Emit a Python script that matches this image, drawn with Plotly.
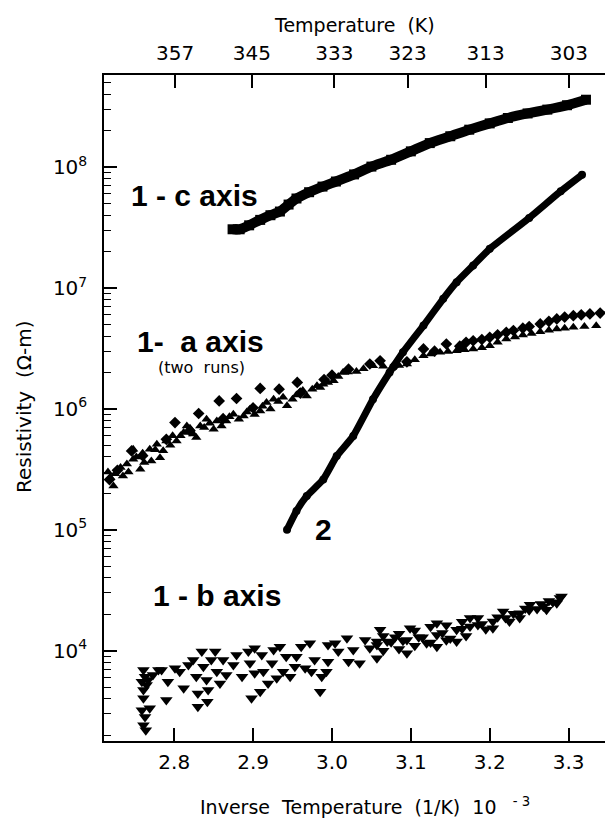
import plotly.graph_objects as go

# ---------------- data ----------------
# inverse temperature (1/K x 10^-3), resistivity (Ohm-m)
c_x = [2.874, 2.883, 2.895, 2.909, 2.922, 2.934, 2.945, 2.955, 2.971, 2.988, 3.005, 3.028,
       3.050, 3.075, 3.100, 3.124, 3.150, 3.174, 3.200, 3.223, 3.248, 3.273, 3.298, 3.322]
c_y = [3.06e7, 3.06e7, 3.30e7, 3.66e7, 4.00e7, 4.29e7, 4.90e7, 5.50e7, 6.20e7, 6.90e7, 7.60e7, 8.70e7,
       1.01e8, 1.15e8, 1.35e8, 1.58e8, 1.80e8, 2.04e8, 2.30e8, 2.55e8, 2.78e8, 2.99e8, 3.25e8, 3.61e8]

s2_x = [2.943, 2.955, 2.968, 2.989, 3.006, 3.027, 3.052, 3.073, 3.090, 3.116, 3.141,
        3.158, 3.179, 3.200, 3.250, 3.290, 3.317]
s2_y = [1.00e5, 1.43e5, 1.90e5, 2.61e5, 4.07e5, 5.97e5, 1.20e6, 2.00e6, 2.94e6, 4.89e6, 8.13e6,
        1.117e7, 1.535e7, 2.11e7, 3.80e7, 6.31e7, 8.63e7]

# 1 - a axis, run 1 (diamonds)
a1_x = [2.718, 2.728, 2.746, 2.760, 2.790, 2.801, 2.820, 2.831, 2.857, 2.862, 2.879, 2.900,
        2.909, 2.933, 2.956, 2.960, 2.990, 3.000, 3.021, 3.048, 3.061, 3.080, 3.095, 3.116,
        3.130, 3.145, 3.162, 3.170, 3.179, 3.190, 3.200, 3.210, 3.221, 3.230, 3.242, 3.250,
        3.264, 3.275, 3.285, 3.295, 3.306, 3.316, 3.327, 3.340, 3.352]
a1_y = [2.6e5, 3.1e5, 4.49e5, 4.1e5, 5.6e5, 7.71e5, 6.6e5, 9.16e5, 1.164e6, 8.3e5, 1.219e6, 1.02e6,
        1.476e6, 1.455e6, 1.656e6, 1.35e6, 1.75e6, 1.90e6, 2.13e6, 2.35e6, 2.50e6, 2.30e6, 2.45e6, 3.13e6,
        3.0e6, 3.44e6, 3.3e6, 3.55e6, 3.66e6, 3.75e6, 3.91e6, 4.1e6, 4.30e6, 4.45e6, 4.65e6, 4.8e6,
        5.04e6, 5.3e6, 5.55e6, 5.75e6, 5.90e6, 6.0e6, 6.10e6, 6.2e6, 6.30e6]

# 1 - a axis, run 2 (triangles)
a2_x = [2.716, 2.719, 2.723, 2.725, 2.732, 2.735, 2.740, 2.742, 2.748, 2.748, 2.752, 2.757,
        2.760, 2.762, 2.769, 2.771, 2.776, 2.778, 2.782, 2.786, 2.790, 2.795, 2.798, 2.803,
        2.808, 2.812, 2.816, 2.820, 2.824, 2.828, 2.833, 2.838, 2.841, 2.845, 2.850, 2.854,
        2.860, 2.866, 2.870, 2.875, 2.882, 2.888, 2.892, 2.896, 2.902, 2.909, 2.912, 2.917,
        2.922, 2.926, 2.932, 2.938, 2.943, 2.950, 2.955, 2.959, 2.963, 2.968, 2.975, 2.981,
        2.985, 2.989, 2.995, 3.002, 3.008, 3.014, 3.020, 3.031, 3.040, 3.052, 3.065, 3.076,
        3.085, 3.095, 3.105, 3.116, 3.125, 3.137, 3.147, 3.158, 3.168, 3.179, 3.190, 3.200,
        3.210, 3.221, 3.232, 3.242, 3.253, 3.264, 3.275, 3.285, 3.295, 3.306, 3.320, 3.335]
a2_y = [3.0e5, 2.70e5, 2.30e5, 2.9e5, 3.27e5, 2.78e5, 3.5e5, 3.0e5, 3.83e5, 4.63e5, 4.0e5, 3.16e5,
        4.3e5, 3.6e5, 4.63e5, 3.71e5, 4.6e5, 5.1e5, 3.95e5, 4.5e5, 5.43e5, 5.0e5, 6.0e5, 5.43e5,
        6.0e5, 6.37e5, 7.23e5, 6.9e5, 6.2e5, 5.79e5, 7.23e5, 7.0e5, 8.22e5, 7.6e5, 6.79e5, 7.94e5,
        7.2e5, 7.94e5, 8.6e5, 9.04e5, 8.2e5, 8.75e5, 9.4e5, 9.95e5, 9.0e5, 9.62e5, 1.05e6, 1.13e6,
        1.0e6, 1.20e6, 1.15e6, 1.245e6, 1.06e6, 1.2e6, 1.3e6, 1.368e6, 1.42e6, 1.28e6, 1.45e6, 1.552e6,
        1.5e6, 1.60e6, 1.65e6, 1.706e6, 1.85e6, 2.00e6, 2.02e6, 2.04e6, 2.15e6, 2.275e6, 2.25e6, 2.20e6,
        2.28e6, 2.35e6, 2.55e6, 2.75e6, 2.85e6, 2.94e6, 2.98e6, 3.03e6, 3.08e6, 3.13e6, 3.20e6, 3.33e6,
        3.55e6, 3.78e6, 3.93e6, 4.08e6, 4.20e6, 4.35e6, 4.47e6, 4.58e6, 4.65e6, 4.73e6, 4.80e6, 4.88e6]

# 1 - b axis (inverted triangles)
b_x = [2.761, 2.763, 2.759, 2.761, 2.765, 2.761, 2.759, 2.763, 2.761, 2.764, 2.769, 2.767,
       2.773, 2.780, 2.784, 2.792, 2.790, 2.801, 2.812, 2.807, 2.818, 2.824, 2.828, 2.830,
       2.830, 2.835, 2.837, 2.841, 2.843, 2.842, 2.847, 2.852, 2.854, 2.858, 2.862, 2.866,
       2.875, 2.879, 2.886, 2.894, 2.896, 2.898, 2.902, 2.902, 2.909, 2.913, 2.911, 2.919,
       2.924, 2.926, 2.930, 2.934, 2.938, 2.942, 2.947, 2.953, 2.955, 2.961, 2.966, 2.972,
       2.974, 2.978, 2.985, 2.987, 2.993, 2.995, 2.995, 3.004, 3.008, 3.019, 3.021, 3.027,
       3.035, 3.042, 3.048, 3.057,
       3.057, 3.061, 3.057, 3.065, 3.065, 3.070, 3.075, 3.080, 3.085, 3.085, 3.090, 3.095,
       3.099, 3.095, 3.105, 3.105, 3.110, 3.115, 3.120, 3.125, 3.125, 3.133, 3.133, 3.133,
       3.140, 3.145, 3.145, 3.150, 3.158, 3.158, 3.165, 3.165, 3.170, 3.175, 3.175, 3.185,
       3.185, 3.190, 3.195, 3.204, 3.204, 3.210, 3.217, 3.220, 3.225, 3.230, 3.238, 3.238,
       3.245, 3.250, 3.251, 3.260, 3.265, 3.268, 3.272, 3.275, 3.280, 3.285, 3.289, 3.291]
b_y = [6900, 6080, 5530, 4720, 5190, 4030, 3220, 2830, 2420, 2200, 3330, 5710,
       6280, 6900, 6900, 5530, 3900, 7140, 4880, 6700, 7600, 8380, 6080, 4430,
       3430, 9820, 7360, 5710, 4720, 3780, 8380, 9820, 6700, 5360, 8380, 6280,
       7600, 9200, 6080, 9820, 7850, 4030, 6490, 10470, 4570, 6700, 9200, 5360,
       7850, 10140, 5900, 10790, 6700, 8910, 6080, 7360, 8910, 10790, 7140, 11510,
       6700, 8380, 4570, 6080, 6700, 8110, 11140, 11510, 9820, 12680, 8110, 10140,
       7850, 12270, 10470, 11890,
       11140, 14860, 8650, 13200, 10000, 11900, 11750, 12900, 13800, 10300, 12100, 12270,
       15350, 9510, 14700, 11000, 12900, 12880, 11500, 15800, 11700, 13490, 16870, 10790,
       14000, 16200, 12200, 12600, 14860, 11890, 15200, 17300, 13200, 15810, 18580, 16300,
       18600, 16600, 15000, 17420, 15350, 18900, 21090, 18620, 17400, 20200, 20420, 18580,
       22300, 21630, 23930, 22100, 24300, 23170, 21780, 25700, 25120, 24720, 27230, 28050]

y_ticks = [1e4, 1e5, 1e6, 1e7, 1e8]
y_tick_labels = ["10<sup>4</sup>", "10<sup>5</sup>", "10<sup>6</sup>", "10<sup>7</sup>", "10<sup>8</sup>"]
x_ticks = [2.8, 2.9, 3.0, 3.1, 3.2, 3.3]
x_tick_labels = ["2.8", "2.9", "3.0", "3.1", "3.2", "3.3"]
top_temps = [357, 345, 333, 323, 313, 303]

# ---------------- figure ----------------
FONT = "DejaVu Sans, Liberation Sans, Arial, sans-serif"
BOLD = "Liberation Sans, Arial, Helvetica, sans-serif"
OFF = 8                      # the page body margin shifts the figure by 8 px
W, H = 605, 811
L, R, T, B = 96, 1, 67, 78
XR = [2.711, 3.355]
YR = [3.2525, 8.762]

def P(px, py):
    """screen pixel -> paper coordinates"""
    fx, fy = px - OFF, py - OFF
    return (fx - L) / (W - L - R), (H - B - fy) / (H - T - B)

fig = go.Figure()

fig.add_trace(go.Scatter(x=c_x, y=c_y, mode="lines+markers",
                         line=dict(color="black", width=10, shape="spline", smoothing=0.5),
                         marker=dict(symbol="square", size=10, color="black")))
fig.add_trace(go.Scatter(x=s2_x, y=s2_y, mode="lines+markers",
                         line=dict(color="black", width=7, shape="spline", smoothing=0.4),
                         marker=dict(symbol="circle", size=8, color="black")))
fig.add_trace(go.Scatter(x=a2_x, y=a2_y, mode="markers",
                         marker=dict(symbol="triangle-up", size=9, color="black")))
fig.add_trace(go.Scatter(x=a1_x, y=a1_y, mode="markers",
                         marker=dict(symbol="diamond", size=9, color="black")))
fig.add_trace(go.Scatter(x=b_x, y=b_y, mode="markers",
                         marker=dict(symbol="triangle-down", size=11, color="black")))
# invisible trace carrying the top temperature axis
fig.add_trace(go.Scatter(x=[XR[0]], y=[1e5], xaxis="x2", mode="markers",
                         marker=dict(opacity=0), hoverinfo="skip"))

minor_vals = [d * k for d in [1e3, 1e4, 1e5, 1e6, 1e7, 1e8] for k in range(2, 10)]

TF = dict(size=20, family=FONT, color="black")
fig.update_layout(
    width=W, height=H,
    margin=dict(l=L, r=R, t=T, b=B, autoexpand=False),
    paper_bgcolor="white", plot_bgcolor="white",
    showlegend=False,
    font=dict(family=FONT, color="black"),
    xaxis=dict(range=XR, showgrid=False, zeroline=False, automargin=False,
               showline=True, linecolor="black", linewidth=1.5,
               ticks="inside", ticklen=13, tickwidth=1.5, tickcolor="black",
               tickvals=x_ticks, ticktext=x_tick_labels,
               tickfont=TF, ticklabelstandoff=2),
    xaxis2=dict(range=XR, overlaying="x", side="top", anchor="y", automargin=False,
                showgrid=False, zeroline=False,
                showline=True, linecolor="black", linewidth=1.5,
                ticks="inside", ticklen=13, tickwidth=1.5, tickcolor="black",
                tickvals=[1000.0 / t for t in top_temps],
                ticktext=[str(t) for t in top_temps],
                tickfont=TF, ticklabelstandoff=5),
    yaxis=dict(type="log", range=YR, showgrid=False, zeroline=False, automargin=False,
               showline=True, linecolor="black", linewidth=1.5,
               ticks="inside", ticklen=13, tickwidth=1.5, tickcolor="black",
               tickvals=y_ticks, ticktext=y_tick_labels,
               tickfont=TF, ticklabelstandoff=11,
               minor=dict(tickvals=minor_vals, ticks="inside", ticklen=7,
                          tickwidth=1.2, tickcolor="black", showgrid=False)),
)

ann = []
def add_text(px, py, text, size, xanchor="left", bold=False, angle=0):
    x, y = P(px, py)
    ann.append(dict(x=x, y=y, xref="paper", yref="paper", showarrow=False,
                    text=("<b>%s</b>" % text) if bold else text,
                    xanchor=xanchor, yanchor="middle", textangle=angle,
                    font=dict(size=size, family=BOLD if bold else FONT, color="black")))

add_text(129, 196, "1 - c axis", 30, bold=True)
add_text(135, 341, "1-  a axis", 30, bold=True)
add_text(201, 367, "(two  runs)", 16, xanchor="center")
add_text(313, 529, "2", 30, bold=True)
add_text(151, 595, "1 - b axis", 30, bold=True)
add_text(354, 25, "Temperature  (K)", 19, xanchor="center")
add_text(365, 806, "Inverse  Temperature  (1/K)  10  <sup> - 3</sup>", 19, xanchor="center")
add_text(24, 407, "Resistivity  (Ω-m)", 20, xanchor="center", angle=-90)
fig.update_layout(annotations=ann)

fig.write_html("out.html")
